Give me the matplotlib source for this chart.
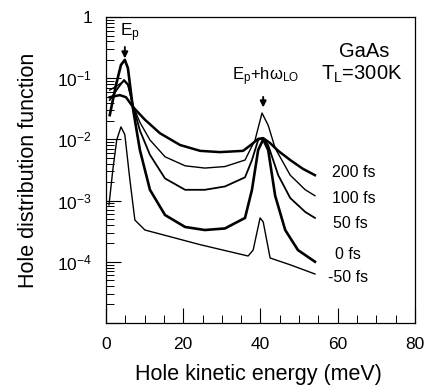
import numpy as np
import matplotlib
matplotlib.use("Agg")
import matplotlib.pyplot as plt
from matplotlib.ticker import FixedLocator, MultipleLocator, LogLocator, NullFormatter

plt.rcParams['font.family'] = ['Liberation Sans', 'DejaVu Sans']
plt.rcParams['mathtext.fontset'] = 'custom'
plt.rcParams['mathtext.rm'] = 'Liberation Sans'
plt.rcParams['mathtext.it'] = 'Liberation Sans'

# hole distribution curves (energy in meV)
e_200 = [1.0, 3.6, 5.2, 7.0, 10.1, 14.0, 19.2, 24.4, 29.5, 35.5, 37.8, 39.4, 40.7, 42.5, 44.6, 47.7, 51.0, 54.1]
f_200 = [0.049, 0.053, 0.049, 0.034, 0.021, 0.0126, 0.0081, 0.0065, 0.0062, 0.0065, 0.0084, 0.0102, 0.0105, 0.0087, 0.0065, 0.0046, 0.0033, 0.0026]

e_100 = [1.0, 3.1, 4.7, 5.7, 7.0, 8.8, 11.4, 15.3, 20.5, 25.6, 30.8, 36.0, 38.6, 40.4, 42.0, 43.8, 47.7, 51.6, 54.1]
f_100 = [0.064, 0.077, 0.090, 0.077, 0.036, 0.019, 0.0098, 0.0052, 0.0037, 0.0034, 0.0036, 0.0046, 0.0098, 0.027, 0.017, 0.0072, 0.0026, 0.0015, 0.0012]

e_50 = [1.0, 3.1, 4.7, 5.7, 7.0, 8.8, 11.4, 15.3, 20.5, 25.6, 30.8, 36.0, 37.8, 39.4, 40.7, 42.0, 44.6, 47.7, 51.6, 54.1]
f_50 = [0.044, 0.069, 0.094, 0.080, 0.036, 0.014, 0.0056, 0.0023, 0.0015, 0.0015, 0.0017, 0.0024, 0.0046, 0.0098, 0.0105, 0.008, 0.0026, 0.0011, 0.00065, 0.00052]

e_0 = [1.0, 2.6, 3.9, 4.9, 5.7, 7.0, 8.8, 11.4, 15.3, 20.5, 25.6, 30.8, 36.0, 37.8, 39.4, 40.7, 42.0, 43.8, 46.4, 49.7, 54.1]
f_0 = [0.025, 0.077, 0.165, 0.20, 0.146, 0.032, 0.0067, 0.0015, 0.00058, 0.00037, 0.00033, 0.00035, 0.00052, 0.0015, 0.0067, 0.010, 0.0067, 0.0012, 0.00033, 0.000155, 0.0001]

e_m50 = [0.8, 1.8, 2.8, 3.9, 4.9, 6.2, 7.5, 10.1, 24.4, 36.8, 38.1, 39.9, 40.7, 42.5, 47.7, 54.1]
f_m50 = [0.00085, 0.0032, 0.0098, 0.016, 0.012, 0.0022, 0.00048, 0.00033, 0.00019, 0.000124, 0.000155, 0.00052, 0.00045, 0.000115, 0.000089, 0.000063]

delay_labels = ['200 fs', '100 fs', '50 fs', '0 fs', '-50 fs']
label_x = [58.5, 58.5, 58.8, 59.3, 57.5]
label_y = [0.0029, 0.0011, 0.00042, 0.00013, 0.000056]

fig = plt.figure(figsize=(4.27, 3.89), dpi=100)
ax = fig.add_axes([0.248, 0.170, 0.724, 0.786])

ax.plot(e_200, f_200, color='k', lw=1.8)
ax.plot(e_100, f_100, color='k', lw=1.0)
ax.plot(e_50, f_50, color='k', lw=1.3)
ax.plot(e_0, f_0, color='k', lw=1.9)
ax.plot(e_m50, f_m50, color='k', lw=1.0)

ax.set_yscale('log')
ax.set_xlim(0, 80)
ax.set_ylim(1e-5, 1)

ax.xaxis.set_major_locator(MultipleLocator(20))
ax.xaxis.set_minor_locator(MultipleLocator(5))
ax.yaxis.set_major_locator(FixedLocator([1e-5, 1e-4, 1e-3, 1e-2, 1e-1, 1]))
ax.set_yticklabels(['', r'$10^{-4}$', r'$10^{-3}$', r'$10^{-2}$', r'$10^{-1}$', '1'])
ax.yaxis.set_minor_locator(LogLocator(base=10, subs=np.arange(2, 10), numticks=20))
ax.yaxis.set_minor_formatter(NullFormatter())

ax.tick_params(which='both', direction='in', top=False, right=False, labelsize=12.5)
ax.tick_params(which='major', length=11, width=0.8, pad=10)
ax.tick_params(which='minor', length=5.5, width=0.7)
for s in ax.spines.values():
    s.set_linewidth(0.9)

ax.set_xlabel('Hole kinetic energy (meV)', fontsize=15.5)
ax.set_ylabel('Hole distribution function', fontsize=15.5)
ax.xaxis.set_label_coords(0.495, -0.135)
ax.yaxis.set_label_coords(-0.215, 0.50)

for lab, x, y in zip(delay_labels, label_x, label_y):
    ax.text(x, y, lab, fontsize=11.5, ha='left', va='center')

ax.text(6.2, 0.55, r'E$_\mathregular{p}$', fontsize=12.5, ha='center', va='center')
ax.annotate('', xy=(4.9, 0.19), xytext=(4.9, 0.36),
            arrowprops=dict(arrowstyle='-|>', color='k', lw=1.4, mutation_scale=9))
ax.text(41.2, 0.105, r'E$_\mathregular{p}$+h$\omega_\mathregular{LO}$', fontsize=12,
        ha='center', va='center')
ax.annotate('', xy=(40.7, 0.030), xytext=(40.7, 0.055),
            arrowprops=dict(arrowstyle='-|>', color='k', lw=1.4, mutation_scale=9))
ax.text(66.8, 0.27, 'GaAs', fontsize=14.5, ha='center', va='center')
ax.text(66.3, 0.117, r'T$_\mathregular{L}$=300K', fontsize=14.5, ha='center', va='center')

fig.savefig('out.png', dpi=100)
